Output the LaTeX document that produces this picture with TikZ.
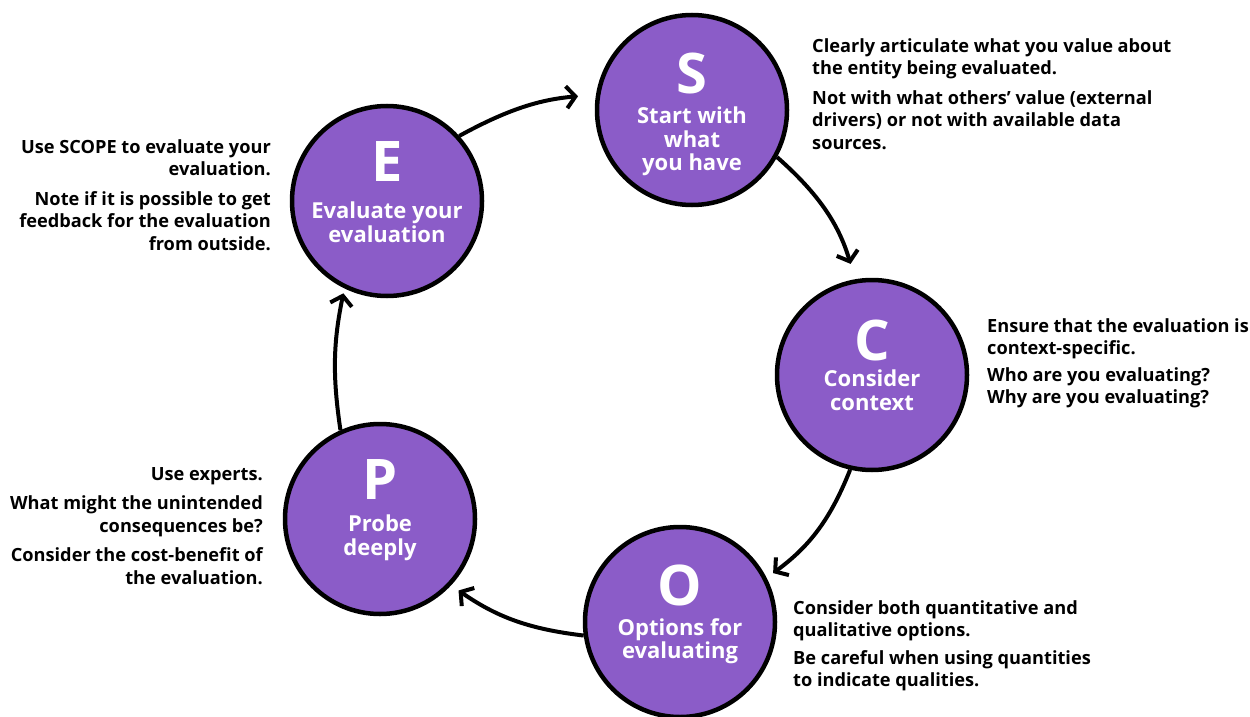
\documentclass[tikz,border=0pt]{standalone}
\usepackage{fontspec}
\setmainfont{Open Sans}
\usetikzlibrary{arrows.meta}
\definecolor{scpurple}{RGB}{139,92,200}
\begin{document}
\begin{tikzpicture}[x=1pt,y=1pt,
 circ/.style={circle, draw=black, line width=4.5pt, fill=scpurple, minimum size=190pt, inner sep=0pt},
 letter/.style={text=white, font=\bfseries\fontsize{56}{56}\selectfont, inner sep=0pt},
 lab/.style={text=white, font=\bfseries\fontsize{22}{23.5}\selectfont, align=center, inner sep=0pt, anchor=north},
 desc/.style={font=\bfseries\fontsize{18.2}{22.5}\selectfont, inner sep=0pt},
 arr/.style={line width=4pt, -{Straight Barb[length=9pt,width=22pt]}}
]
\useasboundingbox (0,0) rectangle (1250,-717);
\clip (0,0) rectangle (1250,-717);
% circles
\node[circ] (S) at (692,-110) {};
\node[circ] (C) at (872,-375) {};
\node[circ] (O) at (680,-622) {};
\node[circ] (P) at (380,-519) {};
\node[circ] (E) at (387,-201) {};
% letters
\node[letter] (Sl) at (692,-73) {S};
\node[letter] (Cl) at (872,-340) {C};
\node[letter] (Ol) at (680,-585) {O};
\node[letter] (Pl) at (380,-480) {P};
\node[letter] (El) at (387,-162) {E};
% labels
\node[lab] (Sn) at (692,-107) {Start with\\what\\you have};
\node[lab] (Cn) at (872,-370) {Consider\\context};
\node[lab] (On) at (680,-618) {Options for\\evaluating};
\node[lab] (Pn) at (380,-515) {Probe\\deeply};
\node[lab] (En) at (387,-202) {Evaluate your\\evaluation};
% descriptions
\node[desc, anchor=north west, align=left] (St) at (812,-38) {Clearly articulate what you value about\\the entity being evaluated.\\[7pt]Not with what others’ value (external\\drivers) or not with available data\\sources.};
\node[desc, anchor=north east, align=right] (Et) at (271,-139) {Use SCOPE to evaluate your\\evaluation.\\[7pt]Note if it is possible to get\\feedback for the evaluation\\from outside.};
\node[desc, anchor=north west, align=left] (Ct) at (987,-318) {Ensure that the evaluation is\\context-specific.\\[4pt]Who are you evaluating?\\Why are you evaluating?};
\node[desc, anchor=north east, align=right] (Pt) at (263,-467) {Use experts.\\[7pt]What might the unintended\\consequences be?\\[7pt]Consider the cost-benefit of\\the evaluation.};
\node[desc, anchor=north west, align=left] (Ot) at (793,-600) {Consider both quantitative and\\qualitative options.\\[5pt]Be careful when using quantities\\to indicate qualities.};
% arrows
\draw[arr, shorten >=18pt] (E.42) to[bend left=12] (S.171);
\draw[arr, shorten >=16pt] (S.-29) to[bend left=16] (C.100);
\draw[arr, shorten >=8pt] (C.257) to[bend left=16] (O.27);
\draw[arr, shorten >=9pt] (O.188) to[bend left=14] (P.-43);
\draw[arr, shorten >=5pt] (P.114) to[bend left=10] (E.244);
\end{tikzpicture}
\end{document}
